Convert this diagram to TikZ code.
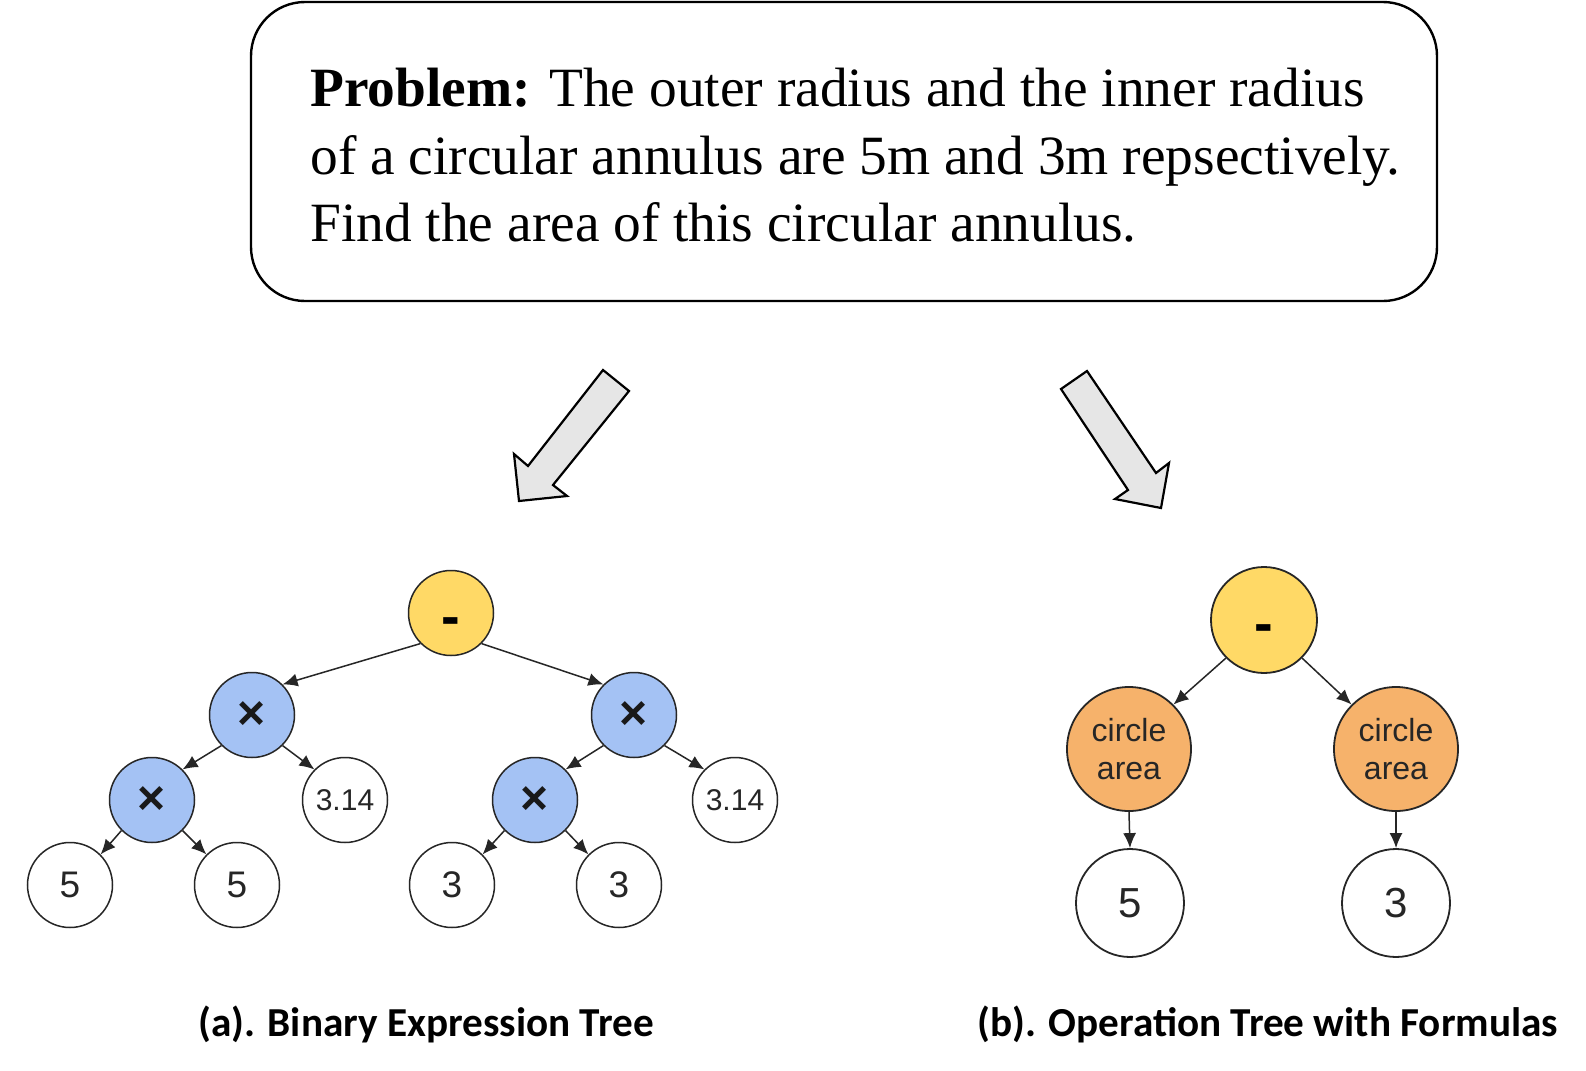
\documentclass[tikz,border=0pt]{standalone}
\usepackage{fontspec}
\setmainfont{Liberation Serif}
\newfontfamily\arialfont{Liberation Sans}
\newfontfamily\calfont{Carlito}
\usetikzlibrary{arrows.meta}
\definecolor{yelc}{HTML}{FFD966}
\definecolor{bluc}{HTML}{A4C2F4}
\definecolor{oranc}{HTML}{F6B26B}
\definecolor{grayc}{HTML}{E6E6E6}
\newcommand{\minusmark}{\smash{\raisebox{-11.4pt}{-}}}
\tikzset{
  tn/.style={circle, draw=black!85, line width=0.75pt, minimum size=42.5pt, inner sep=0pt,
    font=\arialfont\fontsize{18.5pt}{20pt}\selectfont, text=black!85},
  yel/.style={tn, fill=yelc, font=\arialfont\bfseries\fontsize{28pt}{28pt}\selectfont, text=black},
  blu/.style={tn, fill=bluc, font=\arialfont\bfseries\fontsize{24pt}{24pt}\selectfont, text=black!90},
  wht/.style={tn, fill=white},
  small/.style={font=\arialfont\fontsize{15pt}{15pt}\selectfont},
  edge/.style={draw=black!85, line width=0.75pt, -{Latex[length=7.5pt,width=6.5pt]}},
  bigarrow/.style={draw=black, line width=1.1pt, fill=grayc, line join=miter},
  probtxt/.style={anchor=base west, inner sep=0pt, font=\fontsize{27.7pt}{33pt}\selectfont},
  capstyle/.style={anchor=base west, inner sep=0pt, font=\calfont\bfseries\fontsize{20.6pt}{22pt}\selectfont},
  orn/.style={tn, fill=oranc, minimum size=62pt, line width=0.9pt, align=center,
    font=\arialfont\fontsize{16pt}{19pt}\selectfont, text=black!85},
  bigleaf/.style={wht, minimum size=54pt, line width=0.9pt, font=\arialfont\fontsize{21pt}{22pt}\selectfont},
}
\begin{document}
\begin{tikzpicture}[x=0.5pt,y=-0.5pt]
\useasboundingbox[fill=white] (0,0) rectangle (1586,1071);

% problem box
\node (box) [draw=black, line width=1.2pt, rounded corners=27pt, minimum width=593pt, minimum height=149.5pt, inner sep=0pt] at (844,151.5) {};
\node (l1) [probtxt] at (310,106) {\textbf{Problem:} The outer radius and the inner radius};
\node (l2) [probtxt] at (310,174) {of a circular annulus are 5m and 3m repsectively.};
\node (l3) [probtxt] at (310,241) {Find the area of this circular annulus.};

% big arrows
\draw[bigarrow] (603,370) -- (629,391) -- (553,485) -- (567,496) -- (519,501) -- (514,454) -- (528,466) -- cycle;
\draw[bigarrow] (1061,389) -- (1087,371) -- (1156,473) -- (1169,463) -- (1161,508) -- (1115,499) -- (1128,490) -- cycle;

% tree (a)
\node (ra) [yel] at (451,613) {\minusmark};
\node (bL) [blu] at (252,715) {×};
\node (bR) [blu] at (634,715) {×};
\node (bLL) [blu] at (152,800) {×};
\node (tL) [wht, small] at (345,800) {3.14};
\node (bRL) [blu] at (535,800) {×};
\node (tR) [wht, small] at (735,800) {3.14};
\node (f1) [wht] at (70,885) {5};
\node (f2) [wht] at (237,885) {5};
\node (f3) [wht] at (452,885) {3};
\node (f4) [wht] at (619,885) {3};

\draw[edge] (ra.south west) -- (bL.north east);
\draw[edge] (ra.south east) -- (bR.north west);
\draw[edge] (bL.south west) -- (bLL.north east);
\draw[edge] (bL.south east) -- (tL.north west);
\draw[edge] (bR.south west) -- (bRL.north east);
\draw[edge] (bR.south east) -- (tR.north west);
\draw[edge] (bLL.south west) -- (f1.north east);
\draw[edge] (bLL.south east) -- (f2.north west);
\draw[edge] (bRL.south west) -- (f3.north east);
\draw[edge] (bRL.south east) -- (f4.north west);

% tree (b)
\node (rb) [yel, minimum size=53pt, line width=0.9pt] at (1264,620) {\minusmark};
\node (cL) [orn] at (1129,749) {circle\\area};
\node (cR) [orn] at (1396,749) {circle\\area};
\node (lL) [bigleaf] at (1130,903) {5};
\node (lR) [bigleaf] at (1396,903) {3};

\draw[edge] (rb.south west) -- (cL.north east);
\draw[edge] (rb.south east) -- (cR.north west);
\draw[edge] (cL.south) -- (lL.north);
\draw[edge] (cR.south) -- (lR.north);

% captions
\node (capa) [capstyle] at (198,1036) {(a). Binary Expression Tree};
\node (capb) [capstyle] at (977,1036) {(b). Operation Tree with Formulas};
\end{tikzpicture}
\end{document}
